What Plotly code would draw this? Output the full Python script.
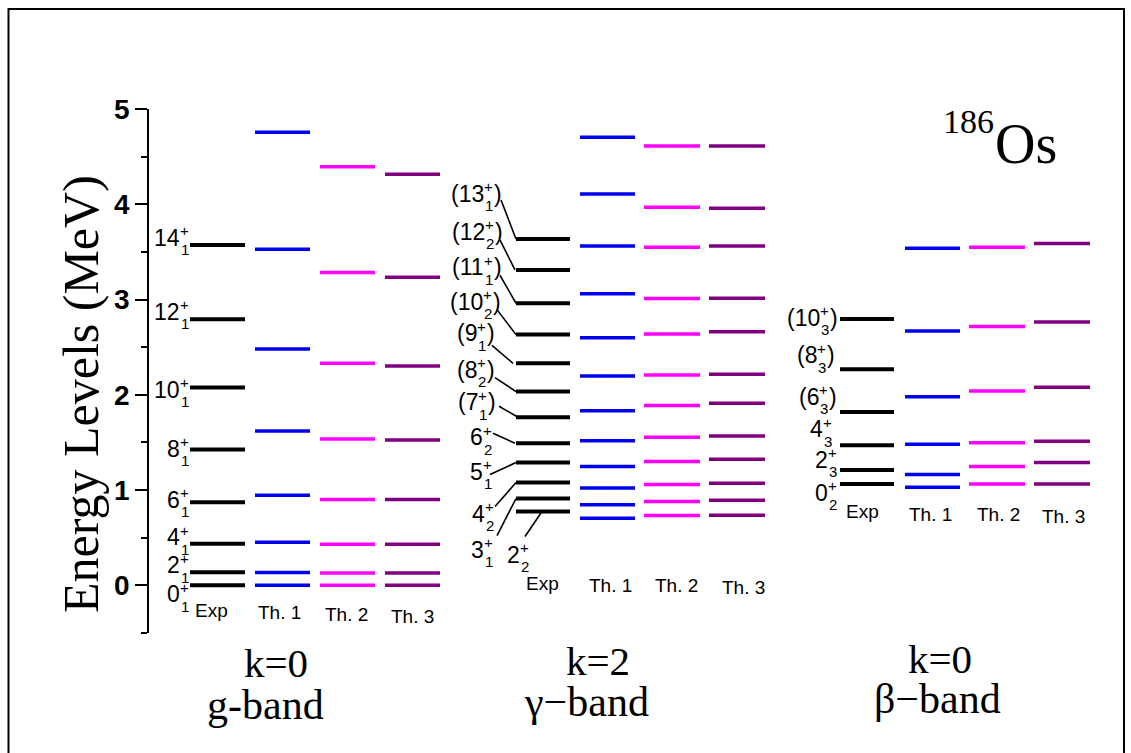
import plotly.graph_objects as go

# ---------------- data (MeV) ----------------
g_spin = ["0", "2", "4", "6", "8", "10", "12", "14"]
g_idx = ["1", "1", "1", "1", "1", "1", "1", "1"]
g_exp = [0.000, 0.138, 0.437, 0.873, 1.427, 2.076, 2.793, 3.573]
g_th1 = [0.000, 0.135, 0.452, 0.945, 1.621, 2.482, 3.528, 4.755]
g_th2 = [0.000, 0.131, 0.432, 0.900, 1.537, 2.331, 3.283, 4.395]
g_th3 = [0.000, 0.131, 0.432, 0.900, 1.527, 2.303, 3.234, 4.315]

gam_spin = ["2", "3", "4", "5", "6", "7", "8", "9", "10", "11", "12", "13"]
gam_idx = ["2", "1", "2", "1", "2", "1", "2", "1", "2", "1", "2", "1"]
gam_tentative = [False, False, False, False, False, True, True, True, True, True, True, True]
gam_exp = [0.775, 0.911, 1.079, 1.289, 1.492, 1.765, 2.034, 2.331, 2.632, 2.961, 3.311, 3.636]
gam_th1 = [0.705, 0.845, 1.023, 1.247, 1.519, 1.834, 2.198, 2.600, 3.062, 3.562, 4.108, 4.703]
gam_th2 = [0.732, 0.879, 1.058, 1.299, 1.555, 1.887, 2.209, 2.639, 3.010, 3.549, 3.968, 4.612]
gam_th3 = [0.737, 0.894, 1.072, 1.324, 1.569, 1.912, 2.216, 2.663, 3.013, 3.562, 3.958, 4.612]

bet_spin = ["0", "2", "4", "6", "8", "10"]
bet_idx = ["2", "3", "3", "3", "3", "3"]
bet_tentative = [False, False, False, True, True, True]
bet_exp = [1.065, 1.212, 1.471, 1.820, 2.268, 2.796]
bet_th1 = [1.030, 1.163, 1.481, 1.981, 2.670, 3.538]
bet_th2 = [1.065, 1.247, 1.498, 2.041, 2.716, 3.549]
bet_th3 = [1.065, 1.289, 1.513, 2.080, 2.765, 3.587]

col_names = ["Exp", "Th. 1", "Th. 2", "Th. 3"]
band_k = ["k=0", "k=2", "k=0"]
band_names = ["g-band", "γ−band", "β−band"]
nucleus_mass = "186"
nucleus_sym = "Os"
y_title = "Energy Levels (MeV)"
y_ticks = [0, 1, 2, 3, 4, 5]

# ---------------- layout / style ----------------
W, H = 1131, 753
ML, MR, MT, MB = 149, 0, 109, 120
YMIN, YMAX = -0.5, 5.0
PPM = (H - MT - MB) / (YMAX - YMIN)  # pixels per MeV
COLORS = ["#000000", "#0000F0", "#FF00FF", "#800080"]
WIDTHS = [4, 3.5, 3.5, 3.5]
SANS = "Arial, Liberation Sans, sans-serif"
SERIF = "Times New Roman, Liberation Serif, serif"
LAB_SIZE, SCR_SIZE, COL_SIZE = 23, 15, 19

# column x-extents (x axis in pixel-like units)
g_cols = [(190, 245), (255, 310), (320, 375), (385, 440)]
gam_cols = [(516, 570), (580, 635), (644, 700), (709, 765)]
bet_cols = [(840, 894), (905, 960), (969, 1025), (1034, 1090)]

# label placement (script column x, vertical shift in px, + = up)
g_lab_x = [180] * 8
g_lab_shift = [-9, 7, 6.5, 2.3, 0.7, -2.3, 7.6, 7]
gam_lab_x = [520, 484, 485, 483, 483, 478, 477, 477, 483, 484, 485, 484]
gam_lab_shift = [-43, -51, -31, -9, 6, 15, 22, 30, 33, 36, 38, 45]
gam_conn_x0 = [525, 497, 495, 490, 493, 499, 495, 492, 497, 500, 500, 501]
gam_conn_dy = [-18, -14, -7, 3, -4, 4, 8, 12, 8, 8, 8, 6]
gam_conn_x1 = [542, 516, 516, 516, 515, 518, 516, 513, 516, 516, 515, 516]
bet_lab_x = [828, 828, 823, 819, 817, 820]
bet_lab_shift = [-9, 10, 16, 15, 14, 1]

col_lab_pos = {
    "g": [(211, -0.268), (279.5, -0.289), (346, -0.310), (412, -0.331)],
    "gam": [(542, 0.021), (610, -0.002), (676, -0.005), (743, -0.026)],
    "bet": [(862, 0.771), (930, 0.740), (998, 0.740), (1063, 0.719)],
}

fig = go.Figure()


def add_levels(cols, series):
    for (x0, x1), vals, c, w in zip(cols, series, COLORS, WIDTHS):
        xs, ys = [], []
        for v in vals:
            xs += [x0, x1, None]
            ys += [v, v, None]
        fig.add_trace(go.Scatter(x=xs, y=ys, mode="lines", line=dict(color=c, width=w),
                                 hoverinfo="skip", showlegend=False))


add_levels(g_cols, [g_exp, g_th1, g_th2, g_th3])
add_levels(gam_cols, [gam_exp, gam_th1, gam_th2, gam_th3])
add_levels(bet_cols, [bet_exp, bet_th1, bet_th2, bet_th3])

# connector lines for gamma band
cx, cy = [], []
for e, sh, x0, dy, x1 in zip(gam_exp, gam_lab_shift, gam_conn_x0, gam_conn_dy, gam_conn_x1):
    cx += [x0, x1, None]
    cy += [e + (sh - dy) / PPM, e, None]
fig.add_trace(go.Scatter(x=cx, y=cy, mode="lines", line=dict(color="black", width=1.6),
                         hoverinfo="skip", showlegend=False))

ann = []


def txt(x, y, s, size, xa="center", ya="middle", ys=0, font=SANS, xref="x", yref="y", angle=0):
    ann.append(dict(x=x, y=y, xref=xref, yref=yref, text=s, showarrow=False, xanchor=xa,
                    yanchor=ya, yshift=ys, textangle=angle, borderpad=0, borderwidth=0,
                    font=dict(family=font, size=size, color="black")))


def level_label(xc, e, shift, spin, idx, paren):
    main = ("(" if paren else "") + spin
    txt(xc, e, main, LAB_SIZE, xa="right", ys=shift)
    txt(xc, e, "+", SCR_SIZE, xa="left", ys=shift + 7)
    txt(xc + 0.5, e, idx, SCR_SIZE, xa="left", ys=shift - 12)
    if paren:
        txt(xc + 9.5, e, ")", LAB_SIZE, xa="left", ys=shift)


for xc, e, sh, s, i in zip(g_lab_x, g_exp, g_lab_shift, g_spin, g_idx):
    level_label(xc, e, sh, s, i, False)
for xc, e, sh, s, i, p in zip(gam_lab_x, gam_exp, gam_lab_shift, gam_spin, gam_idx, gam_tentative):
    level_label(xc, e, sh, s, i, p)
for xc, e, sh, s, i, p in zip(bet_lab_x, bet_exp, bet_lab_shift, bet_spin, bet_idx, bet_tentative):
    level_label(xc, e, sh, s, i, p)

for key in ["g", "gam", "bet"]:
    for (x, y), name in zip(col_lab_pos[key], col_names):
        txt(x, y, name, COL_SIZE)


def px2paper_x(px):
    return (px - ML) / (W - ML - MR)


def px2paper_y(py):
    return (H - MB - py) / (H - MT - MB)


# band titles
band_k_pos = [(275.5, 663), (598, 660.5), (940, 659)]
band_n_pos = [(265, 704.5), (586, 701.5), (937, 699)]
for (x, y), s in zip(band_k_pos, band_k):
    txt(px2paper_x(x), px2paper_y(y), s, 41, font=SERIF, xref="paper", yref="paper")
for (x, y), s in zip(band_n_pos, band_names):
    txt(px2paper_x(x), px2paper_y(y), s, 42, font=SERIF, xref="paper", yref="paper")

# nucleus label
txt(px2paper_x(994), px2paper_y(121.5), nucleus_mass, 34, xa="right", font=SERIF, xref="paper", yref="paper")
txt(px2paper_x(995), px2paper_y(144), nucleus_sym, 56, xa="left", font=SERIF, xref="paper", yref="paper")

# y-axis title
txt(px2paper_x(81), px2paper_y(394), y_title, 50, font=SERIF, xref="paper", yref="paper", angle=-90)

fig.update_layout(
    width=W, height=H,
    margin=dict(l=ML, r=MR, t=MT, b=MB, pad=0),
    paper_bgcolor="white", plot_bgcolor="white",
    showlegend=False,
    annotations=ann,
    xaxis=dict(range=[ML, W - MR], visible=False, fixedrange=True),
    yaxis=dict(range=[YMIN, YMAX], showgrid=False, zeroline=False, showline=True,
               linecolor="black", linewidth=1.5, ticks="outside", ticklen=12, tickwidth=1.5,
               tickcolor="black", tickvals=y_ticks, ticktext=[str(t) for t in y_ticks],
               tickfont=dict(family=SANS, size=28, color="black", weight="bold"),
               minor=dict(dtick=0.5, tick0=0, ticks="outside", ticklen=6, tickwidth=1.5,
                          tickcolor="black", showgrid=False),
               fixedrange=True),
    shapes=[dict(type="rect", xref="paper", yref="paper",
                 x0=px2paper_x(8.5), x1=px2paper_x(1124), y0=px2paper_y(760), y1=px2paper_y(9),
                 line=dict(color="black", width=2), fillcolor="rgba(0,0,0,0)", layer="above")],
)

fig.write_html("out.html", config={"displayModeBar": False},
               post_script="document.body.style.margin='0px';")
